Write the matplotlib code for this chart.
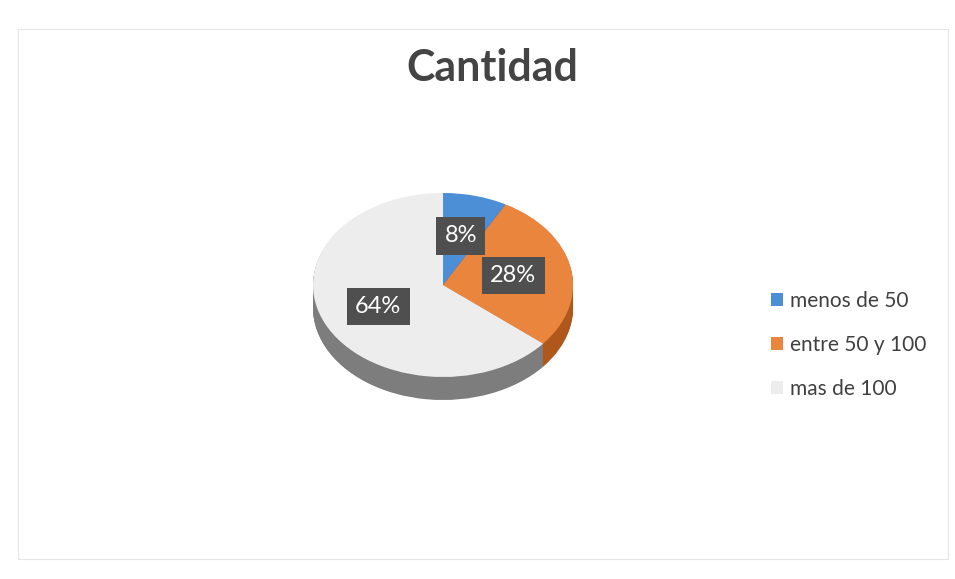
import matplotlib.pyplot as plt
from matplotlib.patches import Rectangle

# === Data ===
categorias = ["menos de 50", "entre 50 y 100", "mas de 100"]
valores = [8, 28, 64]
colores = ["#4d8fd6", "#e9853d", "#ededed"]
colores_lado = ["#2f5f99", "#b0581c", "#7d7d7d"]

W, H = 955, 579
fig = plt.figure(figsize=(W / 100, H / 100), dpi=100)
fig.patch.set_facecolor("white")

# faint chart-area border of the scanned page
fig.patches.append(Rectangle((18 / W, 20 / H), 930 / W, 530 / H, transform=fig.transFigure,
                             fill=False, edgecolor="#e6e6e6", linewidth=0.8))

fig.text(492 / W, 1 - 68 / H, "Cantidad", ha="center", va="center",
         fontsize=31, fontweight="bold", color="#444444", family=["Lato", "DejaVu Sans"])

# === 3D-like pie: an elliptical pie with a stacked side ===
depth = 0.25
cx, cy, rx, ry = 443, 285, 130, 92
left = (cx - rx * 1.05) / W
right = (cx + rx * 1.05) / W
top = 1 - (cy - ry * 1.05) / H
bottom = 1 - (cy + ry * (1.05 + depth)) / H
ax = fig.add_axes([left, bottom, right - left, top - bottom])

n = 30
for i in range(n, 0, -1):
    off = -depth * i / n
    ax.pie(valores, colors=colores_lado, startangle=90, counterclock=False,
           center=(0, off), radius=1, frame=True,
           wedgeprops=dict(linewidth=0))

wedges, _, autotexts = ax.pie(valores, colors=colores, startangle=90, counterclock=False,
                              radius=1, frame=True, autopct="%1.0f%%", pctdistance=0.55,
                              wedgeprops=dict(linewidth=0))
ax.set_aspect("auto")
ax.set_xlim(-1.05, 1.05)
ax.set_ylim(-1.05 - depth, 1.05)
ax.axis("off")

for t in autotexts:
    t.set_color("white")
    t.set_fontsize(17)
    t.set_family(["Lato", "DejaVu Sans"])
    t.set_bbox(dict(boxstyle="square,pad=0.35", facecolor="#4f4f4f", edgecolor="none"))

# === Legend ===
handles = [Rectangle((0, 0), 1, 1, facecolor=c, edgecolor="none") for c in colores]
leg = fig.legend(handles, categorias, loc="center left", bbox_to_anchor=(752 / W, 1 - 345 / H),
                 frameon=False, labelspacing=1.15, handlelength=0.6,
                 handleheight=0.6, handletextpad=0.3, prop={"family": ["Lato", "DejaVu Sans"], "size": 15})
for t in leg.get_texts():
    t.set_color("#404040")

fig.savefig("out.png", dpi=100)
